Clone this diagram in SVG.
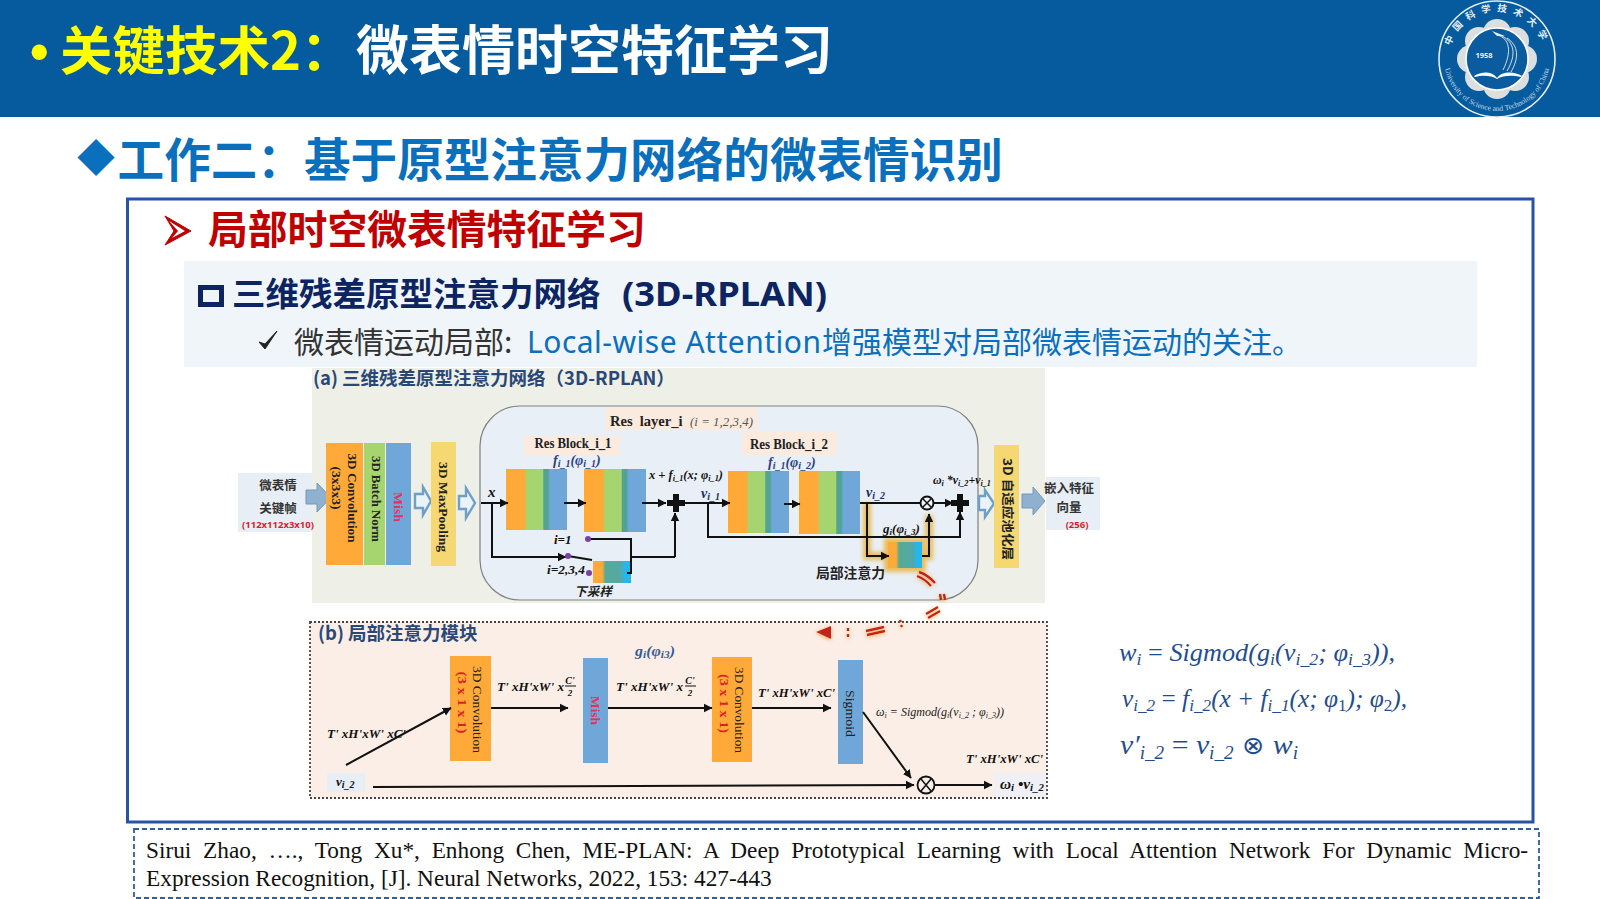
<svg xmlns="http://www.w3.org/2000/svg" width="1600" height="899" viewBox="0 0 1600 899">
<style>
.cjk{font-family:"Noto Sans CJK SC","Liberation Sans",sans-serif}
.ncjk{font-family:"Noto Sans","Noto Sans CJK SC",sans-serif}
.b{font-weight:700}
.ser{font-family:"Liberation Serif","Noto Sans CJK SC",serif}
.bi{font-family:"Liberation Serif","Noto Sans CJK SC",serif;font-weight:700;font-style:italic;fill:#111}
.rt{font-family:"Liberation Serif","Noto Sans CJK SC",serif;font-size:13px;fill:#222;text-anchor:middle}
.mish{font-size:13px;fill:#e5305f;font-weight:700}
.hd{font-family:"Noto Sans CJK SC","Liberation Sans",sans-serif;font-weight:700;fill:#2a4877}
.eq{font-family:"Liberation Serif",serif;font-style:italic;font-size:25px;fill:#1f4e8f}
.line{fill:none;stroke:#111;stroke-width:2}
.arr{marker-end:url(#ah)}
.hol{fill:#eaf3fa;stroke:#6f9fc6;stroke-width:2.4}
.sol{fill:#8fb0cf;stroke:#7499bd;stroke-width:1}
.or{fill:#ffa938}.gr{fill:#a6d46e}.bl{fill:#6fa8d8}.ye{fill:#f6d873}
.dot{fill:#7a3fa8}
.rd{fill:none;stroke:#c5221a;stroke-width:2.4}
</style>
<defs>
<marker id="ah" markerUnits="userSpaceOnUse" markerWidth="10" markerHeight="10" refX="8" refY="5" orient="auto"><path d="M0 .8L8.5 5L0 9.2z" fill="#111"/></marker>
<linearGradient id="res"><stop offset="0" stop-color="#ffa938"/><stop offset=".3" stop-color="#ffa938"/><stop offset=".34" stop-color="#a6d46e"/><stop offset=".6" stop-color="#a6d46e"/><stop offset=".62" stop-color="#52a394"/><stop offset=".69" stop-color="#52a394"/><stop offset=".72" stop-color="#6fa8d8"/><stop offset="1" stop-color="#6fa8d8"/></linearGradient>
<linearGradient id="att"><stop offset="0" stop-color="#ffa938"/><stop offset=".24" stop-color="#ffa938"/><stop offset=".33" stop-color="#54ab96"/><stop offset=".72" stop-color="#55a8a8"/><stop offset=".86" stop-color="#22b8ee"/><stop offset="1" stop-color="#22b8ee"/></linearGradient>
<filter id="glow" x="-30%" y="-30%" width="160%" height="160%"><feGaussianBlur stdDeviation="2.2"/></filter>
<filter id="shade" x="-40%" y="-40%" width="180%" height="180%"><feDropShadow dx="0" dy="1" stdDeviation="2" flood-color="#e8a23c" flood-opacity=".9"/></filter>
<path id="logoTop" d="M1450 72A48.500 48.500 0 1 1 1544 72"/>
<path id="logoBot" d="M1444 58A53 53 0 0 0 1550 58"/>
</defs>

<g id="header">
<rect width="1600" height="117" fill="#055b9e"/>
<text x="30" y="70" font-family="Liberation Sans, sans-serif" font-weight="700" font-size="53" fill="#ffff00">•</text>
<text x="60" y="70" class="cjk b" font-size="52.5" fill="#ffff00">关键技术2：</text>
<text x="356" y="70" class="cjk b" font-size="53" fill="#fff">微表情时空特征学习</text>
</g>

<g id="logo">
<circle cx="1497" cy="59" r="58" fill="none" stroke="#e6edf2" stroke-width="1.6"/>
<g fill="#dcdfdf">
<circle cx="1497" cy="33" r="14"/><circle cx="1515" cy="41" r="14"/><circle cx="1523" cy="59" r="14"/><circle cx="1515" cy="77" r="14"/><circle cx="1497" cy="85" r="14"/><circle cx="1479" cy="77" r="14"/><circle cx="1471" cy="59" r="14"/><circle cx="1479" cy="41" r="14"/>
</g>
<circle cx="1497" cy="59" r="31" fill="#0b5c9f" stroke="#fff" stroke-width="1.6"/>
<text x="1484" y="58" class="ncjk b" font-size="7.500" fill="#e6edf2" text-anchor="middle">1958</text>
<path d="M1497 35C1510 38 1512 52 1503 70M1502 36C1514 42 1517 54 1507 71M1507 38C1519 46 1519 58 1511 72" fill="none" stroke="#e6edf2" stroke-width=".9"/>
<path d="M1492 31L1505 36L1497 36z" fill="#e6edf2"/>
<path d="M1474 76C1482 71 1492 71 1497 78C1502 71 1514 71 1522 76L1521 77C1513 75 1503 75 1497 79C1491 75 1482 75 1475 77z" fill="#fff"/>
<text class="cjk b" font-size="9.500" fill="#e6edf2" text-anchor="middle" letter-spacing="6"><textPath href="#logoTop" startOffset="50%">中国科学技术大学</textPath></text>
<text class="ser" font-size="7.6" fill="#c6d6e4" text-anchor="middle"><textPath href="#logoBot" startOffset="50%">University of Science and Technology of China</textPath></text>
</g>

<g id="heading">
<text x="77" y="172" class="cjk b" font-size="38" fill="#0a70bd">◆</text>
<text x="117.600" y="177" class="cjk b" font-size="46.6" fill="#0a70bd">工作二：基于原型注意力网络的微表情识别</text>
</g>

<g id="frame"><rect x="127.5" y="199" width="1405.5" height="623" fill="#fff" stroke="#2455a5" stroke-width="3"/></g>

<g id="subheading">
<path d="M165 216L191 231L165 245L174 231z" fill="#c00000" stroke="#c00000"/>
<path d="M169 221L185 231L172 238L178 231z" fill="#fff"/>
<text x="208" y="244" class="cjk b" font-size="39.8" fill="#c00000">局部时空微表情特征学习</text>
</g>

<g id="panel">
<rect x="184" y="261" width="1293" height="106" fill="#f0f5fa"/>
<rect x="200.500" y="287.500" width="21" height="17" fill="none" stroke="#0c2461" stroke-width="5"/>
<text x="232" y="306" class="cjk b" font-size="33.5" fill="#0c2461">三维残差原型注意力网络</text>
<text x="622" y="306" class="ncjk b" font-size="33.5" fill="#0c2461" textLength="205" lengthAdjust="spacingAndGlyphs">(3D-RPLAN)</text>
<path d="M259 342L265 349L277 331L265 344z" fill="#222" stroke="#222"/>
<text x="294" y="353" class="cjk" font-size="30" fill="#333">微表情运动局部:</text>
<text x="527" y="353" class="ncjk" font-size="30" fill="#0a70bd" textLength="294" lengthAdjust="spacing">Local-wise Attention</text>
<text x="822" y="353" class="cjk" font-size="30" fill="#0a70bd">增强模型对局部微表情运动的关注。</text>
</g>

<g id="section-a">
<rect x="312" y="368" width="733" height="235" fill="#eef0e8"/>
<text x="313" y="385" class="hd" font-size="18.500">(a) 三维残差原型注意力网络（3D-RPLAN）</text>
<rect x="480" y="406" width="498" height="194" rx="40" fill="#e9eff6" stroke="#808080" stroke-width="1.2"/>
</g>

<g id="section-b">
<rect x="310" y="622" width="737" height="176" fill="#fbeee6" stroke="#444" stroke-width="1.800" stroke-dasharray="2 2"/>
<text x="318" y="640" class="hd" font-size="18.500">(b) 局部注意力模块</text>
<text x="635" y="656" class="bi" font-size="14" textLength="40" lengthAdjust="spacingAndGlyphs" style="fill:#3b5a94">g<tspan font-size="10" dy="2">i</tspan><tspan dy="-2">(φ</tspan><tspan font-size="10" dy="2">i3</tspan><tspan dy="-2">)</tspan></text>
</g>

<g id="input">
<rect x="238" y="473" width="75" height="59" fill="#e8eef5"/>
<text x="278" y="490" class="cjk b" font-size="12.5" fill="#333" text-anchor="middle">微表情</text>
<text x="278" y="513" class="cjk b" font-size="12.5" fill="#333" text-anchor="middle">关键帧</text>
<text x="278" y="528" class="ncjk b" font-size="9.5" fill="#d91f2c" text-anchor="middle">(112x112x3x10)</text>
<path class="sol" d="M306 490H317V483L331 497.500L317 512V504H306z"/>
</g>

<g id="conv3d">
<rect class="or" x="326" y="443" width="37" height="122"/>
<text class="rt b" transform="translate(352 498) rotate(90)" textLength="89" lengthAdjust="spacingAndGlyphs" y="4">3D Convolution</text>
<text class="rt b" transform="translate(336 488) rotate(90)" y="4" textLength="43" lengthAdjust="spacingAndGlyphs">(3x3x3)</text>
</g>
<g id="batchnorm">
<rect class="gr" x="364" y="443" width="21" height="122"/>
<text class="rt b" transform="translate(376 499) rotate(90)" y="4" textLength="86" lengthAdjust="spacingAndGlyphs">3D Batch Norm</text>
</g>
<g id="mish">
<rect class="bl" x="386" y="443" width="25" height="122"/>
<text class="rt mish" transform="translate(398 507) rotate(90)" y="4" textLength="30" lengthAdjust="spacingAndGlyphs">Mish</text>
</g>
<path class="hol" d="M415 494H423V487L431 501L423 515V508H415z"/>
<g id="maxpool">
<rect class="ye" x="431" y="442" width="25" height="124"/>
<text class="rt b" transform="translate(443 507) rotate(90)" y="4" textLength="90" lengthAdjust="spacingAndGlyphs">3D MaxPooling</text>
</g>
<path class="hol" d="M459 496H466V488L475 503L466 518V509H459z"/>

<g id="reslayer-label">
<rect x="605" y="408" width="153" height="22" fill="#fbeade"/>
<text x="610" y="426" class="ser b" font-size="14.500" fill="#222" xml:space="preserve">Res  layer_i</text>
<text x="690" y="426" class="ser" font-style="italic" font-size="13" fill="#555" textLength="63" lengthAdjust="spacingAndGlyphs">(i = 1,2,3,4)</text>
</g>
<g id="resblock-1">
<rect x="524" y="436" width="96" height="20" fill="#fbeade"/>
<text x="573" y="448" class="ser b" font-size="14.500" fill="#222" text-anchor="middle" textLength="77" lengthAdjust="spacingAndGlyphs">Res Block_i_1</text>
<text x="553" y="465" class="bi" font-size="14" style="fill:#2a3f86">f<tspan font-size="10" dy="2">i_1</tspan><tspan dy="-2">(φ</tspan><tspan font-size="10" dy="2">i_1</tspan><tspan dy="-2">)</tspan></text>
<rect x="506" y="469" width="61" height="61" fill="url(#res)"/>
<rect x="584" y="469" width="62" height="63" fill="url(#res)"/>
</g>
<g id="resblock-2">
<rect x="742" y="432" width="95" height="23" fill="#fbeade"/>
<text x="789" y="449" class="ser b" font-size="14.500" fill="#222" text-anchor="middle" textLength="78" lengthAdjust="spacingAndGlyphs">Res Block_i_2</text>
<text x="768" y="467" class="bi" font-size="14" style="fill:#2a3f86">f<tspan font-size="10" dy="2">i_1</tspan><tspan dy="-2">(φ</tspan><tspan font-size="10" dy="2">i_2</tspan><tspan dy="-2">)</tspan></text>
<rect x="728" y="471" width="61" height="62" fill="url(#res)"/>
<rect x="799" y="471" width="61" height="63" fill="url(#res)"/>
</g>

<g id="downsample">
<rect x="593" y="561" width="38" height="22" fill="url(#att)"/>
<text x="593" y="596" class="cjk b" font-style="italic" font-size="12.500" fill="#222" text-anchor="middle">下采样</text>
<text x="554" y="544" class="bi" font-size="13">i=1</text>
<text x="547" y="574" class="bi" font-size="13" textLength="38" lengthAdjust="spacingAndGlyphs">i=2,3,4</text>
</g>

<g id="attention">
<path d="M867 503V556H888M922 556H929V515" fill="none" stroke="#e8bc5c" stroke-width="8" filter="url(#glow)"/>
<rect x="884" y="538" width="42" height="34" fill="#e8bc5c" filter="url(#glow)"/>
<rect x="888" y="542" width="34" height="26" fill="url(#att)"/>
<text x="816" y="578" class="cjk b" font-size="13.500" fill="#222" textLength="69" lengthAdjust="spacingAndGlyphs">局部注意力</text>
<text x="883" y="533" class="bi" font-size="13" textLength="37" lengthAdjust="spacingAndGlyphs">g<tspan font-size="9" dy="2">i</tspan><tspan dy="-2">(φ</tspan><tspan font-size="9" dy="2">i_3</tspan><tspan dy="-2">)</tspan></text>
</g>

<path class="hol" d="M979 496H985V490L994 503.500L985 517V510H979z"/>
<g id="adaptive">
<rect class="ye" x="994" y="445" width="25" height="123"/>
<text class="cjk b" font-size="12.500" fill="#222" text-anchor="middle" transform="translate(1007 509) rotate(90)" y="4" textLength="102" lengthAdjust="spacingAndGlyphs">3D 自适应池化层</text>
</g>
<path class="sol" d="M1022 494H1033V487L1045 501L1033 515V508H1022z"/>
<g id="output">
<rect x="1046" y="477" width="54" height="53" fill="#e8eef5"/>
<text x="1069" y="493" class="cjk b" font-size="12.500" fill="#333" text-anchor="middle">嵌入特征</text>
<text x="1069" y="512" class="cjk b" font-size="12.500" fill="#333" text-anchor="middle">向量</text>
<text x="1077" y="528" class="ncjk b" font-size="9.500" fill="#d91f2c" text-anchor="middle">(256)</text>
</g>

<g id="conv-b1">
<rect class="or" x="450" y="656" width="41" height="105"/>
<text class="rt" transform="translate(477 709.500) rotate(90)" y="4" textLength="87" lengthAdjust="spacingAndGlyphs">3D Convolution</text>
<text class="rt b" style="fill:#d91f2c" transform="translate(462 702.500) rotate(90)" y="4" textLength="62" lengthAdjust="spacingAndGlyphs">(3 x 1 x 1)</text>
</g>
<g id="mish-b">
<rect class="bl" x="583" y="658" width="25" height="105"/>
<text class="rt mish" transform="translate(595 710.500) rotate(90)" y="4" textLength="29" lengthAdjust="spacingAndGlyphs">Mish</text>
</g>
<g id="conv-b2">
<rect class="or" x="712" y="657" width="40" height="105"/>
<text class="rt" transform="translate(739 710) rotate(90)" y="4" textLength="86" lengthAdjust="spacingAndGlyphs">3D Convolution</text>
<text class="rt b" style="fill:#d91f2c" transform="translate(724 703.500) rotate(90)" y="4" textLength="59" lengthAdjust="spacingAndGlyphs">(3 x 1 x 1)</text>
</g>
<g id="sigmoid-b">
<rect class="bl" x="838" y="660" width="25" height="104"/>
<text class="rt" transform="translate(850 713.500) rotate(90)" y="4" textLength="47" lengthAdjust="spacingAndGlyphs">Sigmoid</text>
</g>
<g id="vi2-b">
<rect x="327" y="773" width="38" height="19" fill="#e8eef5"/>
<text x="336" y="786" class="bi" font-size="13">v<tspan font-size="10" dy="2">i_2</tspan></text>
</g>
<g id="out-b">
<rect x="994" y="773" width="52" height="24" fill="#eef0f5"/>
<text x="1000" y="789" class="bi" font-size="14" textLength="44" lengthAdjust="spacingAndGlyphs">ω<tspan font-size="10" dy="2">i</tspan><tspan dy="-2"> •v</tspan><tspan font-size="10" dy="2">i_2</tspan></text>
</g>

<g id="connectors">
<path class="line arr" d="M481 503H508"/>
<path class="line arr" d="M564 503H586"/>
<path class="line arr" d="M642 503H666"/>
<path class="line arr" d="M684 503H730"/>
<path class="line arr" d="M784 504H800"/>
<path class="line" d="M860 503H920"/>
<path class="line arr" d="M934 503H953"/>
<path class="line arr" d="M708 503V537H960V512"/>
<path class="line arr" d="M492 503V557H566"/>
<path class="line" d="M568 556L592 560"/>
<path class="line" d="M589 539H631V573H627M631 557H675"/>
<path class="line arr" d="M675 557V513"/>
<path class="line arr" d="M867 503V556H889"/>
<path class="line arr" d="M922 556H929V514"/>
<path d="M676 494V512M667 503H685M960 494V512M951 503H969" fill="none" stroke="#111" stroke-width="6"/>
<circle cx="927" cy="503" r="6.500" fill="#f0f4f8" stroke="#111" stroke-width="2"/>
<path d="M923 499L931 507M931 499L923 507" stroke="#111" stroke-width="1.500"/>
<circle class="dot" cx="588" cy="539" r="3"/><circle class="dot" cx="568" cy="556" r="3"/><circle class="dot" cx="589" cy="573" r="3"/>
<g filter="url(#shade)">
<path class="rd" d="M919 572Q928 575 935 583M917 576Q925 579 931 586M940 594L941 600M944 594L945 600M938 607L926 614M940 611L928 618M900 620L901 622M901 625L902 627M884 627L866 631M885 631L867 635M848 628V631M848 634V637"/>
<path d="M816 632L831 626V639z" fill="#c5221a"/>
</g>
<path class="line arr" d="M346 765L451 708"/>
<path class="line arr" d="M491 708H568"/>
<path class="line arr" d="M608 708H712"/>
<path class="line arr" d="M752 708H831"/>
<path class="line arr" d="M863 712L911 778"/>
<path class="line arr" d="M373 787L914 785"/>
<path class="line arr" d="M935 785H992"/>
<circle cx="926" cy="785" r="8.500" fill="#fbeee6" stroke="#111" stroke-width="1.800"/>
<path d="M921 779L931 791M931 779L921 791" stroke="#111" stroke-width="1.500"/>
</g>

<g id="labels-a">
<text x="488" y="497" class="bi" font-size="15">x</text>
<text x="649" y="479" class="bi" font-size="13.500" textLength="74" lengthAdjust="spacingAndGlyphs">x + f<tspan font-size="9" dy="2">i_1</tspan><tspan dy="-2">(x; φ</tspan><tspan font-size="9" dy="2">i_1</tspan><tspan dy="-2">)</tspan></text>
<text x="701" y="498" class="bi" font-size="14" style="fill:#1c2f6b">v<tspan font-size="10" dy="2">i_1</tspan></text>
<text x="866" y="497" class="bi" font-size="14" style="fill:#1c2f6b">v<tspan font-size="10" dy="2">i_2</tspan></text>
<text x="933" y="484" class="bi" font-size="11.500" textLength="58" lengthAdjust="spacingAndGlyphs">ω<tspan font-size="8" dy="2">i</tspan><tspan dy="-2"> *v</tspan><tspan font-size="8" dy="2">i_2</tspan><tspan dy="-2">+v</tspan><tspan font-size="8" dy="2">i_1</tspan></text>
</g>

<g id="labels-b">
<text x="327" y="738" class="bi" font-size="13" textLength="79" lengthAdjust="spacingAndGlyphs">T' xH'xW' xC'</text>
<text x="497" y="691" class="bi" font-size="13" textLength="67" lengthAdjust="spacingAndGlyphs">T' xH'xW' x</text>
<text x="570" y="684" class="bi" font-size="10" text-anchor="middle">C'</text><path d="M565 686H576" stroke="#111"/><text x="570" y="696" class="bi" font-size="9" text-anchor="middle">2</text>
<text x="616" y="691" class="bi" font-size="13" textLength="67" lengthAdjust="spacingAndGlyphs">T' xH'xW' x</text>
<text x="690" y="684" class="bi" font-size="10" text-anchor="middle">C'</text><path d="M685 686H696" stroke="#111"/><text x="690" y="696" class="bi" font-size="9" text-anchor="middle">2</text>
<text x="758" y="697" class="bi" font-size="13" textLength="77" lengthAdjust="spacingAndGlyphs">T' xH'xW' xC'</text>
<text x="876" y="716" class="ser" font-style="italic" font-size="12" fill="#222" textLength="128" lengthAdjust="spacingAndGlyphs">ω<tspan font-size="8" dy="2">i</tspan><tspan dy="-2"> = Sigmod(g</tspan><tspan font-size="8" dy="2">i</tspan><tspan dy="-2">(v</tspan><tspan font-size="8" dy="2">i_2</tspan><tspan dy="-2"> ; φ</tspan><tspan font-size="8" dy="2">i_3</tspan><tspan dy="-2">))</tspan></text>
<text x="966" y="763" class="bi" font-size="13" textLength="77" lengthAdjust="spacingAndGlyphs">T' xH'xW' xC'</text>
</g>

<g id="equations">
<text x="1119" y="661" class="eq" textLength="276" lengthAdjust="spacingAndGlyphs">w<tspan font-size="17" dy="4">i</tspan><tspan dy="-4" font-style="normal"> = </tspan><tspan>Sigmod(g</tspan><tspan font-size="17" dy="4">i</tspan><tspan dy="-4">(v</tspan><tspan font-size="17" dy="4">i_2</tspan><tspan dy="-4">; φ</tspan><tspan font-size="17" dy="4">i_3</tspan><tspan dy="-4">)),</tspan></text>
<text x="1122" y="707" class="eq" textLength="285" lengthAdjust="spacingAndGlyphs">v<tspan font-size="17" dy="4">i_2</tspan><tspan dy="-4" font-style="normal"> = </tspan><tspan>f</tspan><tspan font-size="17" dy="4">i_2</tspan><tspan dy="-4">(x + f</tspan><tspan font-size="17" dy="4">i_1</tspan><tspan dy="-4">(x; φ</tspan><tspan font-size="17" dy="4" font-style="normal">1</tspan><tspan dy="-4">); φ</tspan><tspan font-size="17" dy="4" font-style="normal">2</tspan><tspan dy="-4">),</tspan></text>
<text x="1120" y="754" class="eq" style="font-size:28px" textLength="178" lengthAdjust="spacingAndGlyphs">v′<tspan font-size="18" dy="5">i_2</tspan><tspan dy="-5" font-style="normal"> = </tspan><tspan>v</tspan><tspan font-size="18" dy="5">i_2</tspan><tspan dy="-5" font-family="DejaVu Sans" font-style="normal" font-size="25"> ⊗ </tspan><tspan>w</tspan><tspan font-size="18" dy="5">i</tspan></text>
</g>

<g id="citation">
<rect x="134" y="829" width="1405" height="69" fill="#fff" stroke="#2f5f9f" stroke-width="1.800" stroke-dasharray="5 3"/>
<text x="146" y="858" class="ser" font-size="23.300" fill="#111" word-spacing="5.900">Sirui Zhao, …., Tong Xu*, Enhong Chen, ME-PLAN: A Deep Prototypical Learning with Local Attention Network For Dynamic Micro-</text>
<text x="146" y="886" class="ser" font-size="23.300" fill="#111">Expression Recognition, [J]. Neural Networks, 2022, 153: 427-443</text>
</g>
</svg>
